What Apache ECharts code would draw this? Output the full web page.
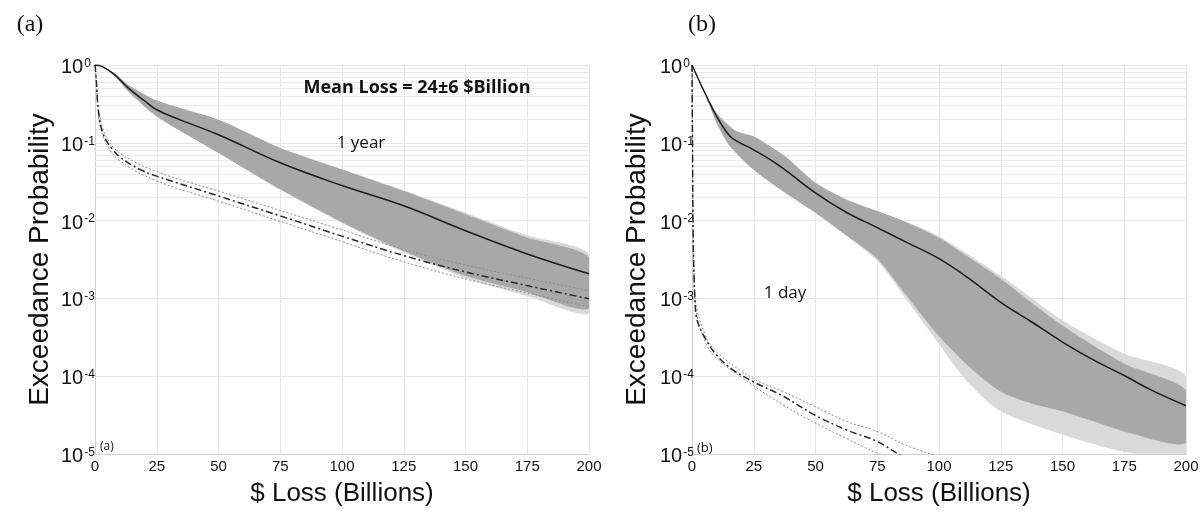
<!DOCTYPE html>
<html><head><meta charset="utf-8">
<script src="https://cdn.jsdelivr.net/npm/echarts@6/dist/echarts.min.js"></script>
<style>html,body{margin:0;background:#fff}#c{width:1204px;height:512px}</style>
</head><body><div id="c"></div>
<script>
// ---------- data (probabilities) ----------
const xTicks = [0, 25, 50, 75, 100, 125, 150, 175, 200];
const yDecades = [1e-5, 1e-4, 1e-3, 1e-2, 1e-1, 1];

// Panel (a): 1 year
const aMeanX = [0, 3, 8, 13.5, 20, 25, 34, 50, 75, 100, 125, 150, 175, 200];
const aMeanP = [1, 0.955, 0.745, 0.504, 0.347, 0.266, 0.200, 0.127, 0.0553, 0.0282, 0.0155, 0.00741, 0.00372, 0.00207];
const aBandX = [0, 3, 8, 13.5, 25, 50, 75, 100, 125, 150, 175, 200];
const aBandUpP = [1, 0.96, 0.782, 0.555, 0.350, 0.198, 0.0859, 0.0454, 0.0240, 0.0121, 0.00608, 0.00339];
const aBandLoP = [1, 0.95, 0.724, 0.456, 0.218, 0.0741, 0.0252, 0.00955, 0.00407, 0.00195, 0.00120, 0.000741];
const aLightUpP = [1, 0.96, 0.782, 0.555, 0.350, 0.198, 0.0859, 0.0457, 0.0245, 0.0126, 0.00646, 0.00372];
const aLightLoP = [1, 0.95, 0.724, 0.456, 0.218, 0.0741, 0.0250, 0.00933, 0.00389, 0.00182, 0.00107, 0.000646];
const aDayX = [0, 0.3, 0.7, 1.1, 2, 3, 4.7, 7, 10, 18, 25, 50, 75, 100, 125, 150, 175, 200];
const aDayP = [1, 0.794, 0.525, 0.316, 0.19, 0.138, 0.105, 0.0832, 0.0661, 0.0457, 0.0373, 0.0207, 0.0115, 0.00631, 0.00355, 0.00219, 0.00146, 0.000989];
const aDayBX = [0, 0.3, 0.7, 1.1, 2, 4.7, 10, 25, 50, 75, 100, 125, 150, 175, 200];
const aDayUpP = [1, 0.81, 0.55, 0.34, 0.21, 0.118, 0.0741, 0.0427, 0.0240, 0.0135, 0.00759, 0.00427, 0.00269, 0.00182, 0.00126];
const aDayLoP = [1, 0.78, 0.50, 0.29, 0.17, 0.0955, 0.0589, 0.0324, 0.0178, 0.00977, 0.00537, 0.00295, 0.00178, 0.00117, 0.000776];

// Panel (b): 1 day
const bMeanX = [0, 5.9, 10, 15.4, 19.4, 24.8, 35.6, 49.8, 62.6, 75, 86.9, 100, 111.5, 125, 137.4, 150, 162.5, 175, 186, 200];
const bMeanP = [1, 0.394, 0.219, 0.121, 0.1, 0.0818, 0.0501, 0.0229, 0.0127, 0.00813, 0.00525, 0.00324, 0.00186, 0.000891, 0.000501, 0.000275, 0.000162, 0.000102, 0.0000661, 0.0000417];
const bUpX = [0, 5.9, 10, 15.4, 18, 24.8, 31.6, 38.3, 49.8, 62.6, 75, 86.9, 100, 111.5, 125, 150, 175, 200];
const bUpP = [1, 0.407, 0.240, 0.162, 0.141, 0.121, 0.0902, 0.0646, 0.0309, 0.0186, 0.0133, 0.00955, 0.00603, 0.00347, 0.00178, 0.000447, 0.000145, 0.0000661];
const bLoX = [0, 5.9, 10, 15.4, 24.8, 37, 49.8, 62.6, 75, 87, 98.4, 111.5, 125, 137.4, 150, 162.5, 175, 200];
const bLoP = [1, 0.380, 0.179, 0.0902, 0.0454, 0.0237, 0.0127, 0.00638, 0.00324, 0.00107, 0.000372, 0.000138, 0.0000631, 0.0000447, 0.0000355, 0.0000263, 0.0000195, 0.0000138];
const bLightUpX = [0, 5.9, 10, 15.4, 18, 24.8, 31.6, 38.3, 49.8, 62.6, 75, 86.9, 100, 125, 150, 175, 200];
const bLightUpP = [1, 0.407, 0.240, 0.162, 0.141, 0.121, 0.0902, 0.0646, 0.0309, 0.0186, 0.0133, 0.00955, 0.00631, 0.00195, 0.000525, 0.000195, 0.0001];
const bLightLoX = [0, 5.9, 10, 15.4, 24.8, 37, 49.8, 62.6, 75, 87, 98.4, 111.5, 125, 150, 175, 200];
const bLightLoP = [1, 0.380, 0.179, 0.0902, 0.0454, 0.0237, 0.0127, 0.00638, 0.00302, 0.000955, 0.000302, 0.0000851, 0.0000355, 0.0000178, 0.0000107, 0.0000063];
const bDayX = [0, 0.2, 0.4, 0.8, 1.2, 1.9, 5.5, 10, 16.7, 24.8, 37, 49.8, 62.6, 75, 83.5, 90];
const bDayP = [1, 0.1, 0.01, 0.002, 0.001, 0.00055, 0.000302, 0.000186, 0.00012, 0.0000851, 0.000055, 0.0000316, 0.0000204, 0.0000145, 0.00001, 0.0000079];
const bDayUpX = [0, 0.2, 0.4, 0.8, 1.2, 5.5, 10, 24.8, 37, 49.8, 62.6, 75, 86, 96.4, 105];
const bDayUpP = [1, 0.1, 0.01, 0.0022, 0.00107, 0.000331, 0.000204, 0.0000933, 0.0000631, 0.0000407, 0.0000263, 0.0000195, 0.0000132, 0.00001, 0.0000079];
const bDayLoX = [0, 0.2, 0.4, 0.8, 1.2, 5.5, 10, 24.8, 37, 49.8, 62.6, 75, 80.5];
const bDayLoP = [1, 0.1, 0.01, 0.00178, 0.000891, 0.000269, 0.00017, 0.0000759, 0.0000427, 0.0000251, 0.0000158, 0.0000102, 0.0000087];

// ---------- helpers ----------
const SANS = '"Liberation Sans", Arial, Helvetica, sans-serif';
const pairs = (xs, ys) => xs.map((x, i) => [x, ys[i]]);
const minorVals = [];
yDecades.slice(0, -1).forEach(d => { for (let k = 2; k <= 9; k++) minorVals.push(+(k * d).toPrecision(3)); });

function band(g, upX, upP, loX, loP, color, z) {
  const pts = pairs(upX, upP).concat(pairs(loX, loP).reverse());
  return {
    type: 'custom', xAxisIndex: g, yAxisIndex: g, z: z, silent: true, clip: true,
    data: pts, encode: { x: 0, y: 1 },
    renderItem: function (params, api) {
      if (params.dataIndex !== 0) return null;
      const cs = params.coordSys;
      let poly = pts.map(p => api.coord(p));
      poly = echarts.graphic.clipPointsByRect(poly, { x: cs.x, y: cs.y, width: cs.width, height: cs.height });
      return { type: 'polygon', shape: { points: poly, smooth: 0.25 }, style: { fill: color } };
    }
  };
}
function line(g, xs, ys, style, z) {
  return {
    type: 'line', xAxisIndex: g, yAxisIndex: g, data: pairs(xs, ys), symbol: 'none', showSymbol: false,
    smooth: 0.4, clip: true, silent: true, z: z, lineStyle: style
  };
}
function minorGrid(g) {
  return {
    type: 'line', xAxisIndex: g, yAxisIndex: g, data: [[0, 1]], symbol: 'none', silent: true,
    lineStyle: { opacity: 0 },
    markLine: { silent: true, symbol: 'none', z: 1, animation: false, label: { show: false },
      lineStyle: { color: '#e9e9e9', type: 'solid', width: 1 },
      data: minorVals.map(v => ({ yAxis: v })) }
  };
}
const meanStyle = { color: '#1c1c1c', width: 1.5 };
const dayStyle = { color: '#2a2a2a', width: 1.5, type: [7, 3, 2, 3] };
const dotStyle = { color: '#8c8c8c', width: 1, type: [2, 2] };

function xAxis(g) {
  return {
    type: 'value', gridIndex: g, min: 0, max: 200, interval: 25,
    name: '$ Loss (Billions)', nameLocation: 'middle', nameGap: 27,
    nameTextStyle: { fontSize: 26, fontFamily: SANS, color: '#111' },
    axisLine: { show: true, lineStyle: { color: '#cfcfcf' } }, axisTick: { show: false },
    axisLabel: { fontSize: 15, fontFamily: SANS, color: '#111', margin: 5,
      formatter: v => xTicks.includes(v) ? String(v) : '' },
    splitLine: { show: true, lineStyle: { color: '#e6e6e6' } }
  };
}
function yAxis(g, margin) {
  return {
    type: 'log', logBase: 10, gridIndex: g, min: 1e-5, max: 1,
    name: 'Exceedance Probability', nameLocation: 'middle', nameGap: 41,
    nameTextStyle: { fontSize: 28, fontFamily: SANS, color: '#111' },
    axisLine: { show: true, lineStyle: { color: '#cfcfcf' } }, axisTick: { show: false },
    splitLine: { show: true, lineStyle: { color: '#e6e6e6' } },
    axisLabel: {
      margin: margin, align: 'left', padding: [5, 0, 0, 0],
      formatter: v => '{b|10}{e|' + Math.round(Math.log10(v)) + '}',
      rich: {
        b: { fontSize: 20, fontFamily: SANS, color: '#111', lineHeight: 20, verticalAlign: 'bottom' },
        e: { fontSize: 12, fontFamily: SANS, color: '#111', lineHeight: 12, padding: [0, 0, 18, 1], verticalAlign: 'top' }
      }
    }
  };
}
function txt(x, y, text, font, align) {
  return { type: 'text', x: x, y: y, silent: true, z: 100,
    style: { text: text, font: font, fill: '#111', align: align || 'center', verticalAlign: 'middle',
      textAlign: align || 'center', textVerticalAlign: 'middle' } };
}

const chart = echarts.init(document.getElementById('c'), null, { renderer: 'canvas' });
chart.setOption({
  animation: false,
  backgroundColor: '#fff',
  grid: [
    { left: 95, top: 65, width: 494, height: 391 },
    { left: 692, top: 65, width: 494, height: 391 }
  ],
  xAxis: [xAxis(0), xAxis(1)],
  yAxis: [yAxis(0, 34), yAxis(1, 32)],
  series: [
    minorGrid(0), minorGrid(1),
    band(0, aBandX, aLightUpP, aBandX, aLightLoP, '#d9d9d9', 2),
    band(0, aBandX, aBandUpP, aBandX, aBandLoP, '#a8a8a8', 3),
    band(1, bLightUpX, bLightUpP, bLightLoX, bLightLoP, '#d9d9d9', 2),
    band(1, bUpX, bUpP, bLoX, bLoP, '#a8a8a8', 3),
    line(0, aDayBX, aDayUpP, dotStyle, 4),
    line(0, aDayBX, aDayLoP, dotStyle, 4),
    line(0, aDayX, aDayP, dayStyle, 5),
    line(0, aMeanX, aMeanP, meanStyle, 6),
    line(1, bDayUpX, bDayUpP, dotStyle, 4),
    line(1, bDayLoX, bDayLoP, dotStyle, 4),
    line(1, bDayX, bDayP, dayStyle, 5),
    line(1, bMeanX, bMeanP, meanStyle, 6)
  ],
  graphic: [
    txt(30, 25, '(a)', '24px "Liberation Serif", "Times New Roman", serif'),
    txt(702, 25, '(b)', '24px "Liberation Serif", "Times New Roman", serif'),
    txt(417, 88, 'Mean Loss = 24±6 $Billion', 'bold 18px "Open Sans", sans-serif'),
    txt(361, 143, '1 year', '17px "Open Sans", sans-serif'),
    txt(785, 293, '1 day', '17px "Open Sans", sans-serif'),
    txt(100, 447, '(a)', '12px "Open Sans", sans-serif', 'left'),
    txt(697, 448, '(b)', '13px "Open Sans", sans-serif', 'left')
  ]
});
</script>
</body></html>
